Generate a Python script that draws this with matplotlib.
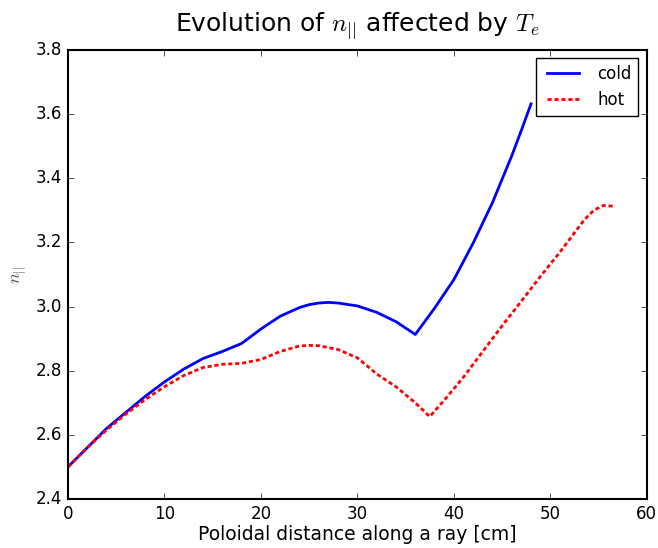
import matplotlib
matplotlib.use('Agg')
import matplotlib.pyplot as plt

#==========================================================
# Données
#==========================================================
x_cold = [0, 2, 4, 6, 8, 10, 12, 14, 16, 18, 20, 22, 24, 25, 26, 27, 28, 30,
          32, 34, 36, 38, 40, 42, 44, 46, 47, 48]
n_cold = [2.50, 2.56, 2.62, 2.67, 2.72, 2.765, 2.805, 2.838, 2.86, 2.885, 2.93,
          2.97, 2.997, 3.006, 3.011, 3.013, 3.011, 3.002, 2.982, 2.953, 2.913,
          2.995, 3.084, 3.198, 3.324, 3.47, 3.55, 3.632]

x_hot = [0, 2, 4, 6, 8, 10, 12, 14, 16, 18, 20, 22, 24, 25, 26, 28, 30, 32, 34,
         36, 37.5, 39, 41, 43, 45, 47, 49, 51, 52.5, 53.5, 54.5, 55.5, 56.5]
n_hot = [2.50, 2.56, 2.615, 2.665, 2.71, 2.75, 2.785, 2.81, 2.82, 2.823, 2.835,
         2.86, 2.877, 2.879, 2.878, 2.866, 2.84, 2.79, 2.75, 2.70, 2.657, 2.708,
         2.78, 2.86, 2.94, 3.017, 3.095, 3.17, 3.23, 3.27, 3.30, 3.315, 3.313]

#==========================================================
# Figure
#==========================================================
plt.style.use('classic')
plt.rcParams['mathtext.fontset'] = 'cm'

fig = plt.figure(figsize=(6.58, 5.48), dpi=100, facecolor='white')
ax = fig.add_axes([0.1033, 0.0894, 0.8797, 0.8194])

ax.plot(x_cold, n_cold, color='blue', lw=2, label='cold')
ax.plot(x_hot, n_hot, color='red', lw=2, ls='--', dashes=(3, 2), label='hot')

ax.set_xlim(0, 60)
ax.set_ylim(2.4, 3.8)
ax.set_xticks(range(0, 61, 10))
ax.set_yticks([2.4, 2.6, 2.8, 3.0, 3.2, 3.4, 3.6, 3.8])
ax.tick_params(labelsize=12)
for s in ax.spines.values():
    s.set_linewidth(1.5)

ax.set_title(r'Evolution of $n_{||}$ affected by $T_e$', fontsize=18, y=1.025)
ax.set_xlabel('Poloidal distance along a ray [cm]', fontsize=13.5, labelpad=2)
ax.set_ylabel(r'$n_{||}$', fontsize=13, color='#555555')

ax.legend(loc='upper right', fontsize=12, handlelength=2.5, borderpad=0.4)

plt.savefig('out.png', dpi=100, facecolor='white')
plt.close()
